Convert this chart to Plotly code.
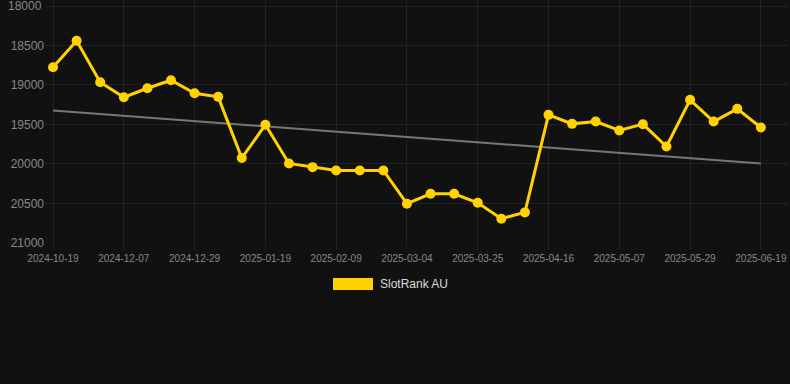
import plotly.graph_objects as go

dates = [
    "2024-10-19", "2024-11-02", "2024-11-16", "2024-12-07", "2024-12-14", "2024-12-21",
    "2024-12-29", "2025-01-05", "2025-01-12", "2025-01-19", "2025-01-26", "2025-02-02",
    "2025-02-09", "2025-02-16", "2025-02-23", "2025-03-04", "2025-03-11", "2025-03-18",
    "2025-03-25", "2025-04-01", "2025-04-08", "2025-04-16", "2025-04-23", "2025-04-30",
    "2025-05-07", "2025-05-14", "2025-05-21", "2025-05-29", "2025-06-05", "2025-06-12",
    "2025-06-19",
]
rank = [
    18775, 18440, 18965, 19155, 19041, 18940,
    19104, 19150, 19925, 19504, 19993, 20040,
    20082, 20082, 20082, 20503, 20377, 20377,
    20491, 20693, 20613, 19378, 19492, 19463,
    19576, 19496, 19779, 19188, 19463, 19302,
    19538,
]
trend_x = [dates[0], dates[-1]]
trend_y = [19323, 19993]
tick_dates = dates[::3]
y_ticks = [18000, 18500, 19000, 19500, 20000, 20500, 21000]
y_labels = [str(v) for v in y_ticks]

series_name = "SlotRank AU"
yellow = "#FFD200"
bg = "#111111"
grid = "#222222"

fig = go.Figure()
fig.add_trace(go.Scatter(
    x=trend_x, y=trend_y, mode="lines",
    line=dict(color="#777777", width=2),
    showlegend=False, hoverinfo="skip",
))
fig.add_trace(go.Scatter(
    x=dates, y=rank, mode="lines+markers", name=series_name,
    line=dict(color=yellow, width=3),
    marker=dict(color=yellow, size=10),
    showlegend=False,
))

# legend drawn as box + label
fig.add_shape(type="rect", xref="paper", yref="paper",
              x0=(333 - 45) / 743, x1=(373 - 45) / 743,
              y0=(384 - 141 - 290) / 243, y1=(384 - 141 - 278) / 243,
              fillcolor=yellow, line=dict(width=0))
fig.add_annotation(xref="paper", yref="paper",
                   x=(378 - 45) / 743, y=(384 - 141 - 284) / 243,
                   xanchor="left", yanchor="middle", showarrow=False,
                   text=series_name, font=dict(size=12, color="#dddddd"))

# top y label (plotly drops it at the paper edge), drawn as text
fig.add_annotation(xref="paper", yref="y", x=0, y=y_ticks[0],
                   xanchor="right", yanchor="middle", showarrow=False,
                   xshift=-1, text=y_labels[0],
                   font=dict(size=12, color="#888888"))

fig.update_layout(
    width=790, height=384,
    paper_bgcolor=bg, plot_bgcolor=bg,
    margin=dict(l=45, r=2, t=0, b=141),
    font=dict(family="Liberation Sans, Arial, sans-serif", color="#888888"),
    showlegend=False,
    xaxis=dict(
        type="category", categoryorder="array", categoryarray=dates,
        range=[-0.34, 31.15],
        tickmode="array", tickvals=tick_dates, ticktext=tick_dates,
        tickfont=dict(size=10, color="#888888"),
        showgrid=True, gridcolor=grid, gridwidth=1,
        zeroline=False, showline=False,
        ticks="outside", ticklen=6, tickcolor=grid,
    ),
    yaxis=dict(
        range=[21000.5, 17924], tickmode="array", tickvals=y_ticks,
        ticktext=[""] + y_labels[1:],
        tickfont=dict(size=12, color="#888888"),
        showgrid=True, gridcolor=grid, gridwidth=1,
        zeroline=False, showline=False, ticks="", ticksuffix=" ",
    ),
)

fig.write_html(
    "out.html",
    config={"displayModeBar": False},
    post_script="document.body.style.margin='0';document.body.style.background='#111111';",
)
